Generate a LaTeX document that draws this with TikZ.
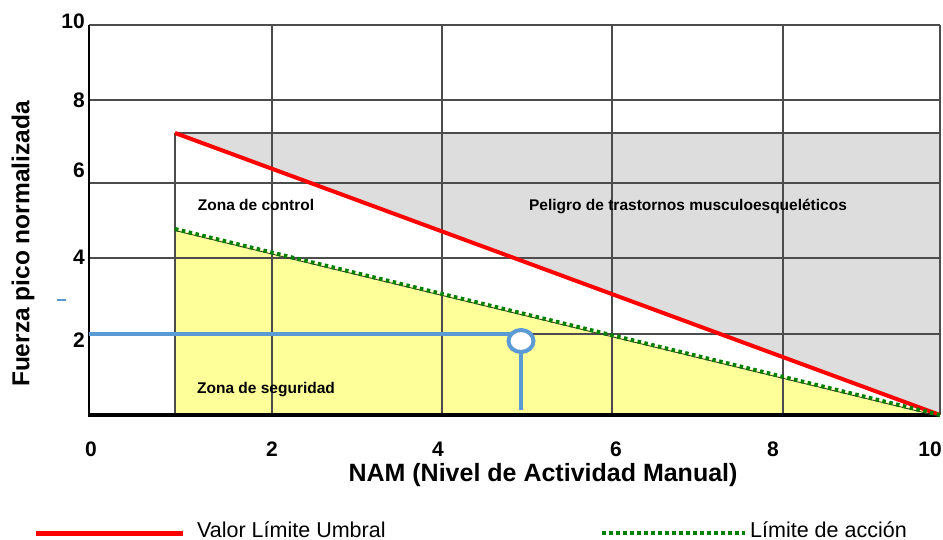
\documentclass[tikz,border=0pt]{standalone}
\usepackage{fontspec}
\usetikzlibrary{shapes.geometric}
\setmainfont{Liberation Sans}
\definecolor{rojo}{RGB}{255,0,0}
\definecolor{verde}{RGB}{0,128,0}
\definecolor{azul}{RGB}{91,155,213}
\definecolor{amarillo}{RGB}{255,255,153}
\definecolor{gris}{RGB}{221,221,221}

\begin{document}
\begin{tikzpicture}[x=1pt,y=-1pt]
	\tikzstyle{rejilla}=[draw=black!70,line width=1.3pt]
	\tikzstyle{vlu}=[draw=rojo,line width=4pt]
	\tikzstyle{lacc}=[draw=verde,line width=4pt,dash pattern=on 3.5pt off 3.5pt]
	\tikzstyle{nivel}=[draw=azul,line width=4pt]
	\tikzstyle{zona}=[font=\fontsize{15.5}{18}\selectfont\bfseries,anchor=base,inner sep=0pt]
	\tikzstyle{num}=[font=\fontsize{21}{24}\selectfont\bfseries,inner sep=0pt]
	\tikzstyle{leyenda}=[font=\fontsize{21.5}{24}\selectfont,anchor=base west,inner sep=0pt]

	\useasboundingbox (0,0) rectangle (943,540);

	\coordinate (vlu0) at (175,133);
	\coordinate (la0) at (175,229);
	\coordinate (cero) at (940,415);
	\coordinate (esq) at (940,133);
	\coordinate (base) at (175,415);

	\fill[gris] (vlu0) -- (esq) -- (cero) -- cycle;
	\fill[amarillo] (la0) -- (cero) -- (base) -- cycle;

	\foreach \y in {25,100,183,258,334}
		\draw[rejilla] (89,\y) -- (940,\y);
	\foreach \x in {272,442,612,783,940}
		\draw[rejilla] (\x,25) -- (\x,415);
	\draw[rejilla] (vlu0) -- (esq);
	\draw[rejilla] (vlu0) -- (base);
	\draw[line width=2pt] (89,25) -- (89,416.5);
	\draw[line width=3.5pt] (88,415) -- (cero);

	\draw[vlu] (vlu0) -- (cero);
	\draw[black!80,line width=0.8pt] ([yshift=-1.5pt]la0) -- ([yshift=-1.5pt]cero);
	\draw[lacc] (la0) -- (cero);

	\coordinate (fza) at (89,334);
	\coordinate (pto) at (521,341);
	\coordinate (nam) at (521,410);
	\draw[nivel] (fza) -- (fza -| pto);
	\draw[nivel] (pto) -- (nam);
	\node[draw=azul,fill=white,line width=4pt,ellipse,minimum width=25pt,minimum height=22pt,inner sep=0pt] (punto) at (pto) {};
	\draw[azul,line width=1.2pt] (57,300) -- (66,300);

	\node[zona] (control) at (256,211) {Zona de control};
	\node[zona] (peligro) at (688,211) {Peligro de trastornos musculoesqueléticos};
	\node[zona] (seguridad) at (266,393) {Zona de seguridad};

	\node[num,anchor=east] (y10) at (85,21) {10};
	\node[num,anchor=east] (y8) at (85,100) {8};
	\node[num,anchor=east] (y6) at (85,170) {6};
	\node[num,anchor=east] (y4) at (85,257) {4};
	\node[num,anchor=east] (y2) at (85,340) {2};

	\node[num,anchor=base] (x0) at (91,456) {0};
	\node[num,anchor=base] (x2) at (272,456) {2};
	\node[num,anchor=base] (x4) at (438,456) {4};
	\node[num,anchor=base] (x6) at (616,456) {6};
	\node[num,anchor=base] (x8) at (773,456) {8};
	\node[num,anchor=base] (x10) at (930,456) {10};

	\node[font=\fontsize{25}{28}\selectfont\bfseries,anchor=base,inner sep=0pt] (xlab) at (543,481) {NAM (Nivel de Actividad Manual)};
	\node[font=\fontsize{24.5}{28}\selectfont\bfseries,rotate=90,inner sep=0pt] (ylab) at (23,244) {Fuerza pico normalizada};

	\coordinate (r0) at (36,533);
	\coordinate (r1) at (183,533);
	\draw[vlu,line width=5pt] (r0) -- (r1);
	\node[leyenda] (tvlu) at (197,537) {Valor Límite Umbral};
	\coordinate (g0) at (602,533);
	\coordinate (g1) at (745,533);
	\draw[lacc] (g0) -- (g1);
	\node[leyenda] (tlacc) at (750,537) {Límite de acción};
\end{tikzpicture}
\end{document}
